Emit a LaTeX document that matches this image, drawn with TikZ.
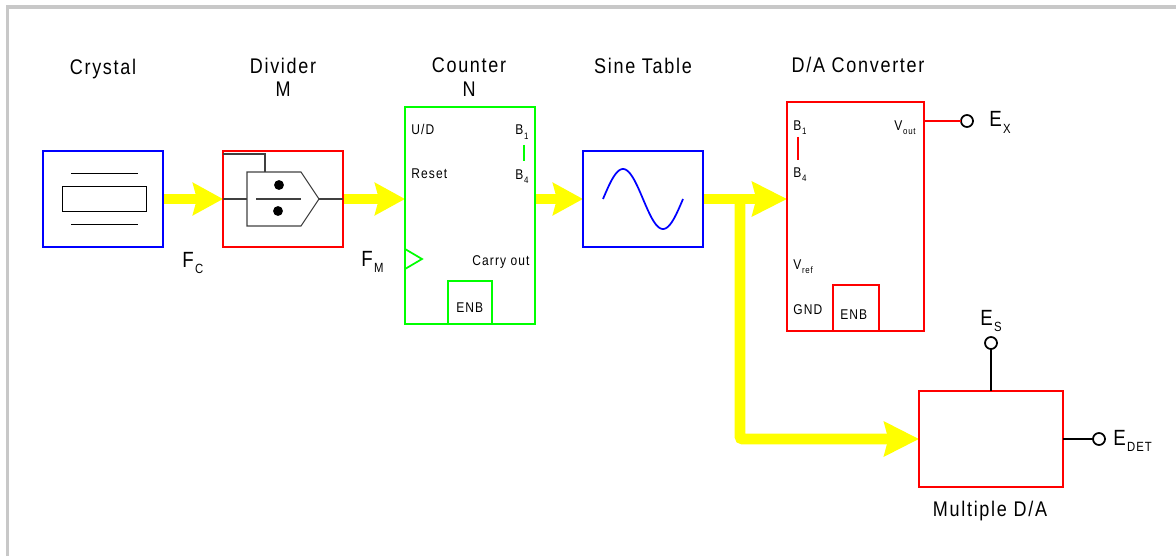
\documentclass[tikz,border=0pt]{standalone}
\usepackage{fontspec}
\setmainfont{Liberation Sans}
\newfontfamily\lsfont[LetterSpace=8,FakeStretch=0.85]{Liberation Sans}
\usetikzlibrary{arrows.meta,backgrounds}
\definecolor{busyellow}{RGB}{255,255,0}
\definecolor{lineblue}{RGB}{0,0,255}
\definecolor{linered}{RGB}{255,0,0}
\definecolor{linegreen}{RGB}{0,255,0}
\definecolor{framegray}{RGB}{200,200,200}
\newcommand{\szT}{\lsfont\fontsize{15.9}{17}\selectfont}
\newcommand{\szS}{\lsfont\fontsize{10.6}{12}\selectfont}
\newcommand{\bigsub}[2]{{\lsfont\fontsize{16.5}{18}\selectfont #1}\kern1pt\raisebox{-5pt}{\lsfont\fontsize{10}{11}\selectfont #2}}
\newcommand{\smallsub}[2]{{\szS #1}\kern0.6pt\raisebox{-3pt}{\lsfont\fontsize{7}{8}\selectfont #2}}
\tikzset{
  x=0.75pt,y=-0.75pt,
  wh/.style 2 args={minimum width=#1*0.75pt,minimum height=#2*0.75pt,inner sep=0pt,outer sep=0pt},
  blk/.style={draw,line width=1.6pt,rectangle},
  thin line/.style={draw=black,line width=0.8pt},
  title/.style={anchor=base,inner sep=0pt,font=\szT},
  small/.style={anchor=base west,inner sep=0pt,font=\szS},
  subl/.style={anchor=base west,inner sep=0pt},
  bus/.style={draw=busyellow,line width=8.2pt,-{Stealth[length=22.5pt,width=24pt,inset=3pt,fill=busyellow]}},
  busbig/.style={draw=busyellow,line width=8.2pt,rounded corners=2pt,-{Stealth[length=26pt,width=25.5pt,inset=3pt,fill=busyellow]}},
  term/.style={circle,draw=black,line width=1.3pt,minimum size=9pt,inner sep=0pt,outer sep=0pt,fill=white},
  lead/.style={draw=black,line width=1.3pt},
}
\begin{document}
\begin{tikzpicture}
\useasboundingbox (0,0) rectangle (1176,556);
% frame
\coordinate (fa) at (7.5,556); \coordinate (fb) at (7.5,7); \coordinate (fc) at (1176,7);
\draw[draw=framegray,line width=2.4pt] (fa) -- (fb) -- (fc);
% main blocks
\node[blk,draw=lineblue,wh={120}{96}] (crystal) at (103,199) {};
\node[blk,draw=linered,wh={120}{96}] (divider) at (283,199) {};
\node[blk,draw=linegreen,wh={130}{217}] (counter) at (470,215.5) {};
\node[blk,draw=lineblue,wh={120}{96}] (sine) at (643,199) {};
\node[blk,draw=linered,wh={137}{229}] (da) at (855.5,216.5) {};
\node[blk,draw=linered,wh={144}{96}] (mult) at (991,439) {};
\node[blk,draw=linegreen,wh={44}{43}] (cenb) at (470,302.5) {};
\node[blk,draw=linered,wh={46}{46}] (denb) at (856,308) {};
% crystal symbol
\node[thin line,wh={84}{24.5}] (xtal) at (104.5,199) {};
\coordinate (xa) at (71,173.5); \coordinate (xb) at (138,173.5);
\coordinate (xc) at (71,224.5); \coordinate (xd) at (138,224.5);
\draw[thin line] (xa) -- (xb); \draw[thin line] (xc) -- (xd);
% divider symbol
\begin{scope}[draw=black!75,line width=0.8pt]
\draw (247,172) -- (301,172) -- (319,199) -- (301,226) -- (247,226) -- cycle;
\draw (divider.west) -- (247,199);
\draw (319,199) -- (divider.east);
\draw (256,199) -- (301,199);
\draw (223,154) -- (265,154) -- (265,172);
\end{scope}
\fill (279,185) circle[radius=3.7pt];
\fill (278,211) circle[radius=3.7pt];
% counter details
\draw[draw=linegreen,line width=1.3pt] (405,249) -- (422,259) -- (405,269);
\draw[draw=linegreen,line width=1.3pt] (524,145) -- (524,161);
% DA details
\draw[draw=linered,line width=1.3pt] (798,137) -- (798,160);
% sine
\draw[draw=lineblue,line width=1.3pt] plot[domain=0:360,samples=72,smooth] ({603+\x/360*80},{199-30*sin(\x)});
% terminals
\node[term] (ex) at (967,121) {};
\node[term] (es) at (991,343) {};
\node[term] (edet) at (1099,439) {};
\draw[draw=linered,line width=1.3pt] (da.east |- ex) -- (ex);
\draw[lead] (es) -- (mult.north);
\draw[lead] (mult.east) -- (edet);
% yellow busses
\begin{scope}[on background layer]
\draw[bus] (crystal.east) -- (divider.west);
\draw[bus] (divider.east) -- (counter.west |- divider.east);
\draw[bus] (counter.east |- sine.west) -- (sine.west);
\draw[busbig] (sine.east) -- (da.west |- sine.east);
\coordinate (tee) at (740,199);
\draw[busbig] (tee) -- (tee |- mult.west) -- (mult.west);
\end{scope}
% titles
\node[title] (t1) at (103,74.5) {Crystal};
\node[title] (t2) at (283,74) {Divider};
\node[title] (t3) at (283,97) {M};
\node[title] (t4) at (469,72.5) {Counter};
\node[title] (t5) at (469,97) {N};
\node[title] (t6) at (643,73.5) {Sine Table};
\node[title] (t7) at (858,72.5) {D/A Converter};
\node[title] (t8) at (990,516.5) {Multiple D/A};
% signal labels
\node[subl] (fc) at (182,267) {\bigsub{F}{C}};
\node[subl] (fm) at (361,266) {\bigsub{F}{M}};
\node[subl] (exl) at (989,127) {\bigsub{E}{X}};
\node[subl] (esl) at (980,325) {\bigsub{E}{S}};
\node[subl] (edetl) at (1113,445) {\bigsub{E}{DET}};
% counter labels
\node[small] (c1) at (411,134) {U/D};
\node[small] (c2) at (411,178) {Reset};
\node[subl] (c3) at (515,135) {\smallsub{B}{1}};
\node[subl] (c4) at (515,179) {\smallsub{B}{4}};
\node[small] (c5) at (472,265) {Carry out};
\node[small] (c6) at (456,312) {ENB};
% DA labels
\node[subl] (d1) at (793,131) {\smallsub{B}{1}};
\node[subl] (d2) at (793,177) {\smallsub{B}{4}};
\node[subl] (d3) at (894,131) {\smallsub{V}{out}};
\node[subl] (d4) at (793,269) {\smallsub{V}{ref}};
\node[small] (d5) at (793,314) {GND};
\node[small] (d6) at (840,319) {ENB};
\end{tikzpicture}
\end{document}
